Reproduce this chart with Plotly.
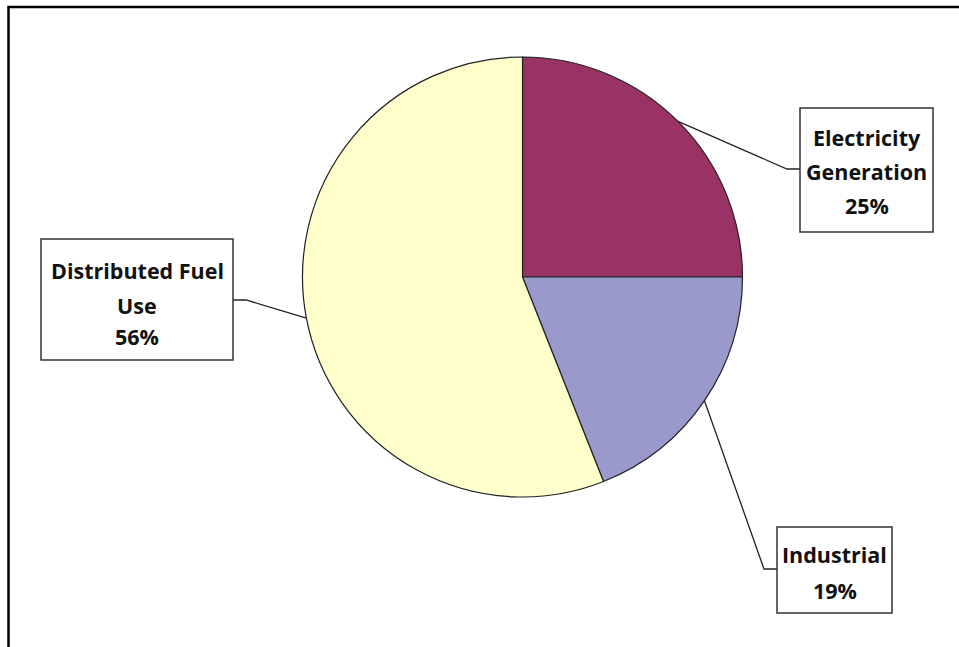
import math
import plotly.graph_objects as go

# Biomass fuel use by application (share of total)
categories = ["Electricity Generation", "Industrial", "Distributed Fuel Use"]
shares = [25, 19, 56]
label_lines = [["Electricity", "Generation", "25%"],
               ["Industrial", "19%"],
               ["Distributed Fuel", "Use", "56%"]]
colors = ["#993366", "#9999CC", "#FFFFCC"]

W, H = 959, 647


def px(x):
    return x / W


def py(y):
    return 1 - y / H


# pie placement (pixels)
cx, cy, r = 522.5, 277.0, 220.0

fig = go.Figure(go.Pie(
    labels=categories,
    values=shares,
    sort=False,
    direction="clockwise",
    rotation=0,
    textinfo="none",
    hoverinfo="label+percent",
    marker=dict(colors=colors, line=dict(color="#222222", width=1.2)),
    domain=dict(x=[px(cx - r), px(cx + r)], y=[py(cy + r), py(cy - r)]),
    showlegend=False,
))

# label boxes (left, top, right, bottom) and leader-line elbows, in pixels
boxes = [(800, 108, 933, 232), (777, 527, 892, 613), (41, 239, 233, 360)]
elbows = [((787, 169), (800, 169)), ((764, 569), (777, 569)), ((246, 300), (233, 300))]
line_y = [[137, 171, 205], [554, 590], [270, 305, 336]]

shapes = []
annotations = []

# outer frame: only the top and left edges fall inside the page
shapes.append(dict(type="path", xref="paper", yref="paper",
                   path=f"M {px(8.5)},-0.05 L {px(8.5)},{py(7)} L 1.05,{py(7)}",
                   line=dict(color="black", width=2.5)))

total = sum(shares)
cum = 0
for i, v in enumerate(shares):
    mid = (cum + v / 2) / total * 2 * math.pi
    cum += v
    ex = cx + r * math.sin(mid)
    ey = cy - r * math.cos(mid)
    (bx, by), (tx, ty) = elbows[i]
    path = f"M {px(ex)},{py(ey)} L {px(bx)},{py(by)} L {px(tx)},{py(ty)}"
    shapes.append(dict(type="path", xref="paper", yref="paper", path=path,
                       line=dict(color="#222222", width=1.3)))
    x0, y0, x1, y1 = boxes[i]
    shapes.append(dict(type="rect", xref="paper", yref="paper",
                       x0=px(x0), x1=px(x1), y0=py(y1), y1=py(y0),
                       fillcolor="white",
                       line=dict(color="#333333", width=1.5)))
    xc = (x0 + x1) / 2
    for text, yy in zip(label_lines[i], line_y[i]):
        annotations.append(dict(text=f"<b>{text}</b>", x=px(xc), y=py(yy),
                                xref="paper", yref="paper", showarrow=False,
                                xanchor="center", yanchor="middle",
                                font=dict(family="Open Sans", size=21.5, color="#111111")))

fig.update_layout(
    width=W, height=H,
    margin=dict(l=0, r=0, t=0, b=0),
    paper_bgcolor="white",
    plot_bgcolor="white",
    shapes=shapes,
    annotations=annotations,
)

fig.write_html("out.html")
